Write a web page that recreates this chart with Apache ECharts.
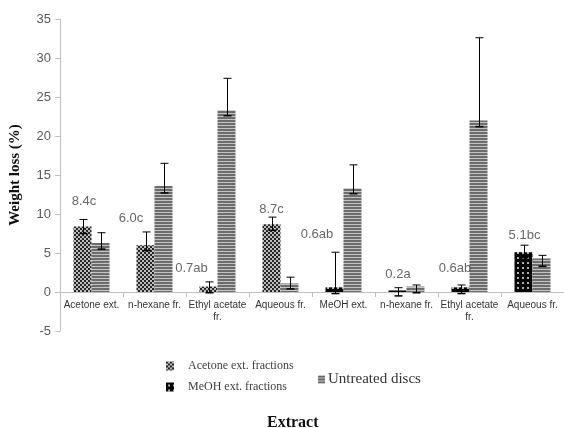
<!DOCTYPE html>
<html>
<head>
<meta charset="utf-8">
<script src="https://cdn.jsdelivr.net/npm/echarts@6/dist/echarts.min.js"></script>
<style>
html,body{margin:0;padding:0;background:#fff;}
#chart{width:564px;height:428px;}
</style>
</head>
<body>
<div id="chart"></div>
<script>
// ---- data ----
const categories = ['Acetone ext.', 'n-hexane fr.', 'Ethyl acetate\nfr.', 'Aqueous fr.', 'MeOH ext.', 'n-hexane fr.', 'Ethyl acetate\nfr.', 'Aqueous fr.'];
const acetoneVals = [8.4, 6.0, 0.7, 8.7, null, null, null, null];
const meohVals = [null, null, null, null, 0.6, 0.2, 0.6, 5.1];
const treatedErrHigh = [9.3, 7.7, 1.3, 9.6, 5.1, 0.55, 0.9, 6.0];
const treatedErrLow = [7.5, 5.3, -0.1, 7.9, -0.2, -0.5, -0.2, 4.4];
const untreatedVals = [6.3, 13.6, 23.3, 1.1, 13.3, 0.7, 22.0, 4.3];
const untreatedErrHigh = [7.6, 16.5, 27.4, 1.9, 16.3, 0.9, 32.6, 4.7];
const untreatedErrLow = [5.5, 12.7, 22.6, 0.4, 12.6, -0.1, 21.2, 3.3];
const labelTexts = ['8.4c', '6.0c', '0.7ab', '8.7c', '0.6ab', '0.2a', '0.6ab', '5.1bc'];
const labelLevels = [11.6, 9.45, 3.0, 10.6, 7.4, 2.2, 3.0, 7.3];
const yTicks = {min: -5, max: 35, interval: 5};

// ---- layout / style ----
const labelDx = [-7.5, -23.5, -26, -9, -26.5, -8.5, -14.5, -8];
const barW = 18;

function makePattern(w, h, draw) {
  const c = document.createElement('canvas');
  c.width = w; c.height = h;
  const ctx = c.getContext('2d');
  draw(ctx);
  return {image: c, repeat: 'repeat'};
}
const checker = makePattern(4, 4, ctx => {
  ctx.fillStyle = '#bdbdbd'; ctx.fillRect(0, 0, 4, 4);
  ctx.fillStyle = '#262626'; ctx.fillRect(0, 0, 2, 2); ctx.fillRect(2, 2, 2, 2);
});
const dots = makePattern(5, 5, ctx => {
  ctx.fillStyle = '#050505'; ctx.fillRect(0, 0, 5, 5);
  ctx.fillStyle = '#b0b0b0'; ctx.fillRect(2, 2, 2, 2);
});
const stripes = makePattern(4, 3, ctx => {
  ctx.fillStyle = '#6c6c6c'; ctx.fillRect(0, 0, 4, 3);
  ctx.fillStyle = '#c4c4c4'; ctx.fillRect(0, 2, 4, 1);
});

function errSeries(hi, lo, offset) {
  return {
    type: 'custom',
    silent: true,
    z: 10,
    data: categories.map((c, i) => [i, hi[i], lo[i]]),
    renderItem: function (params, api) {
      const top = api.coord([api.value(0), api.value(1)]);
      const bot = api.coord([api.value(0), api.value(2)]);
      const x = Math.round(top[0] + offset) + 0.5;
      const cap = 4;
      const st = {stroke: '#000', lineWidth: 1};
      return {
        type: 'group',
        children: [
          {type: 'line', shape: {x1: x, y1: top[1], x2: x, y2: bot[1]}, style: st},
          {type: 'line', shape: {x1: x - cap, y1: top[1], x2: x + cap, y2: top[1]}, style: st},
          {type: 'line', shape: {x1: x - cap, y1: bot[1], x2: x + cap, y2: bot[1]}, style: {stroke: '#000', lineWidth: 1.5}}
        ]
      };
    }
  };
}

const chart = echarts.init(document.getElementById('chart'));
chart.setOption({
  animation: false,
  backgroundColor: '#fff',
  grid: {left: 60, right: 0, top: 19, bottom: 97, containLabel: false},
  xAxis: {
    type: 'category',
    data: categories,
    axisLine: {onZero: true, lineStyle: {color: '#bfbfbf', width: 1}},
    axisTick: {show: true, length: 5, lineStyle: {color: '#bfbfbf'}},
    axisLabel: {color: '#333', fontFamily: 'Liberation Sans', fontSize: 10, margin: -32, interval: 0, lineHeight: 12, verticalAlign: 'top'}
  },
  yAxis: {
    type: 'value',
    min: yTicks.min, max: yTicks.max, interval: yTicks.interval,
    splitLine: {show: false},
    axisLine: {show: true, lineStyle: {color: '#bfbfbf'}},
    axisTick: {show: true, length: 5, lineStyle: {color: '#bfbfbf'}},
    axisLabel: {color: '#595959', fontFamily: 'Liberation Sans', fontSize: 13, margin: 9},
    name: 'Weight loss (%)',
    nameLocation: 'middle',
    nameRotate: 90,
    nameGap: 37,
    nameTextStyle: {fontFamily: 'Liberation Serif', fontWeight: 'bold', fontSize: 15, color: '#111'}
  },
  legend: [
    {
      orient: 'vertical', left: 161, top: 355, icon: 'rect', itemWidth: 8, itemHeight: 9, itemGap: 9,
      data: ['Acetone ext. fractions', 'MeOH ext. fractions'],
      textStyle: {fontFamily: 'Liberation Serif', fontSize: 12, color: '#404040', padding: [0, 0, 0, 9]},
      selectedMode: false
    },
    {
      orient: 'horizontal', left: 313, top: 367, icon: 'rect', itemWidth: 7, itemHeight: 8,
      data: ['Untreated discs'],
      textStyle: {fontFamily: 'Liberation Serif', fontSize: 15, color: '#333', padding: [0, 0, 0, -2]},
      selectedMode: false
    }
  ],
  graphic: [
    {type: 'text', left: 295 - 28, top: 415, style: {text: 'Extract', fontFamily: 'Liberation Serif', fontWeight: 'bold', fontSize: 16, fill: '#111'}}
  ],
  series: [
    {name: 'Acetone ext. fractions', type: 'bar', stack: 'treated', data: acetoneVals, barWidth: barW, barGap: '0%', itemStyle: {color: checker}},
    {name: 'MeOH ext. fractions', type: 'bar', stack: 'treated', data: meohVals, barWidth: barW, barGap: '0%', itemStyle: {color: dots}},
    {name: 'Untreated discs', type: 'bar', data: untreatedVals, barWidth: barW, barGap: '0%', itemStyle: {color: stripes}},
    errSeries(treatedErrHigh, treatedErrLow, -barW / 2),
    errSeries(untreatedErrHigh, untreatedErrLow, barW / 2),
    {
      type: 'scatter', silent: true, symbolSize: 0, z: 12,
      data: labelTexts.map((t, i) => ({value: [i, labelLevels[i]], label: {offset: [labelDx[i], 0]}})),
      label: {
        show: true, position: 'inside',
        formatter: p => labelTexts[p.dataIndex],
        fontFamily: 'Liberation Sans', fontSize: 13, color: '#404040'
      }
    }
  ]
});
</script>
</body>
</html>
